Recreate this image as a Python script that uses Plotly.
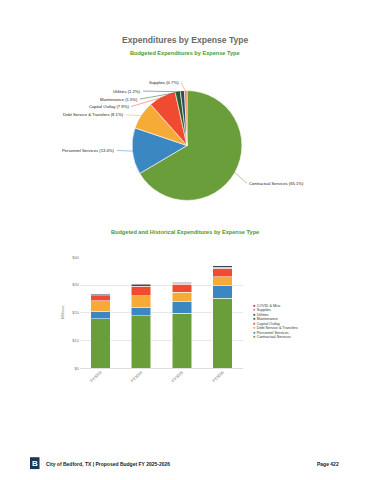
import math
import plotly.graph_objects as go

W, H = 370, 480

# ---------------- data ----------------
pie_labels = ["Contractual Services", "Personnel Services", "Debt Service & Transfers",
              "Capital Outlay", "Maintenance", "Utilities", "Supplies"]
pie_values = [65.1, 13.4, 8.1, 7.9, 1.5, 1.2, 0.7]
pie_colors = ["#6a9e3a", "#3b87c1", "#f6aa38", "#f04a30", "#2d5b2a", "#34495e", "#e8873a"]

years = ["FY2023", "FY2024", "FY2025", "FY2026"]
contractual = [17.8, 18.9, 19.9, 25.3]
personnel = [2.7, 3.0, 4.1, 4.5]
debt = [3.8, 4.2, 3.4, 3.2]
capital = [1.8, 3.5, 2.8, 3.0]
maintenance = [0.4, 0.5, 0.4, 0.5]
utilities = [0.3, 0.4, 0.4, 0.4]
supplies = [0.2, 0.1, 0.1, 0.2]
covid = [0.0, 0.1, 0.0, 0.0]

bar_series = [
    ("Contractual Services", contractual, "#6a9e3a"),
    ("Personnel Services", personnel, "#3b87c1"),
    ("Debt Service & Transfers", debt, "#f6aa38"),
    ("Capital Outlay", capital, "#f04a30"),
    ("Maintenance", maintenance, "#2d5b2a"),
    ("Utilities", utilities, "#34495e"),
    ("Supplies", supplies, "#e8873a"),
    ("COVID & Misc", covid, "#a8322b"),
]
y_ticks = [0, 10, 20, 30, 40]
y_ticktext = ["$0", "$10", "$20", "$30", "$40"]

FONT = "Liberation Sans"

def px(x):
    return x / W

def py(y):
    return 1 - y / H

fig = go.Figure()

# ---------------- pie ----------------
cx, cy, r = 187, 144, 55.5
fig.add_trace(go.Pie(
    labels=pie_labels, values=pie_values, sort=False, direction="clockwise", rotation=0,
    marker=dict(colors=pie_colors, line=dict(color="white", width=0.6)),
    textinfo="none", hoverinfo="label+percent", showlegend=False,
    domain=dict(x=[px(cx - r), px(cx + r)], y=[py(cy + r), py(cy - r)]),
))

# label text positions (layout) for each slice
label_pos = {
    "Contractual Services": (247, 182, "left"),
    "Personnel Services": (117, 149, "right"),
    "Debt Service & Transfers": (126, 113, "right"),
    "Capital Outlay": (131, 104.5, "right"),
    "Maintenance": (140, 97, "right"),
    "Utilities": (143, 89, "right"),
    "Supplies": (181, 80.5, "right"),
}
annotations = []
total = sum(pie_values)
cum = 0.0
for lab, val, col in zip(pie_labels, pie_values, pie_colors):
    mid = (cum + val / 2) / total * 2 * math.pi
    cum += val
    hx = cx + (r - 1) * math.sin(mid)
    hy = cy - (r - 1) * math.cos(mid)
    tx, ty, anc = label_pos[lab]
    annotations.append(dict(
        x=px(hx), y=py(hy), xref="paper", yref="paper",
        ax=tx - hx, ay=ty - hy, axref="pixel", ayref="pixel",
        text=f"{lab} ({val}%)", showarrow=True, arrowhead=0, arrowwidth=0.5,
        arrowcolor=col, xanchor=anc, yanchor="middle", standoff=0,
        font=dict(family=FONT, size=4.2, color="#222"),
    ))

# ---------------- stacked bars ----------------
for name, vals, col in bar_series:
    fig.add_trace(go.Bar(
        x=years, y=vals, name=name, marker=dict(color=col, line=dict(color="white", width=0.5)),
        showlegend=False, xaxis="x", yaxis="y",
    ))

# legend (reverse stacking order) as annotations
for i, (name, vals, col) in enumerate(reversed(bar_series)):
    yy = 305.3 + i * 4.57
    annotations.append(dict(
        x=px(251), y=py(yy), xref="paper", yref="paper", showarrow=False,
        xanchor="left", yanchor="middle",
        text=f'<span style="color:{col};font-size:4.6px">●</span> {name}',
        font=dict(family=FONT, size=3.7, color="#333"),
    ))

# titles
def txt(x, y, text, size, color, xanchor="center", angle=0):
    return dict(x=px(x), y=py(y), xref="paper", yref="paper", showarrow=False,
                xanchor=xanchor, yanchor="middle", textangle=angle, text=text,
                font=dict(family=FONT, size=size, color=color))

annotations += [
    txt(185, 37, "<b>Expenditures by Expense Type</b>", 8.6, "#6b6b6b"),
    txt(185, 50.5, "<b>Budgeted Expenditures by Expense Type</b>", 5.6, "#4a9a2c"),
    txt(185, 231, "<b>Budgeted and Historical Expenditures by Expense Type</b>", 5.6, "#4a9a2c"),
    txt(63, 313, "Millions", 4, "#777", angle=-90),
    txt(44, 465.5, "<b>City of Bedford, TX | Proposed Budget FY 2025-2026</b>", 5, "#222", "left"),
    txt(341, 465.5, "<b>Page 422</b>", 5, "#222", "right"),
    txt(34.8, 465.2, "<b>B</b>", 8, "white"),
]

shapes = [dict(type="rect", xref="paper", yref="paper", x0=px(30), x1=px(39.5),
               y0=py(471), y1=py(459), fillcolor="#1d3557", line=dict(width=0))]

fig.update_layout(
    width=W, height=H, margin=dict(l=0, r=0, t=0, b=0),
    paper_bgcolor="white", plot_bgcolor="white",
    barmode="stack", bargap=0.52,
    xaxis=dict(domain=[px(80), px(243)], anchor="y", tickangle=-45,
               tickfont=dict(family=FONT, size=4, color="#666"), showgrid=False,
               showline=False, ticks=""),
    yaxis=dict(domain=[py(369), py(257)], anchor="x", range=[0, 40], tickvals=y_ticks,
               ticktext=y_ticktext, tickfont=dict(family=FONT, size=4, color="#777"),
               gridcolor="#e8e8e8", gridwidth=0.6, zeroline=True, zerolinecolor="#dddddd",
               zerolinewidth=0.6, showline=False, ticks=""),
    annotations=annotations, shapes=shapes,
)

fig.write_html("out.html", config={"displayModeBar": False},
               post_script="document.body.style.margin='0';document.body.style.overflow='hidden';")
